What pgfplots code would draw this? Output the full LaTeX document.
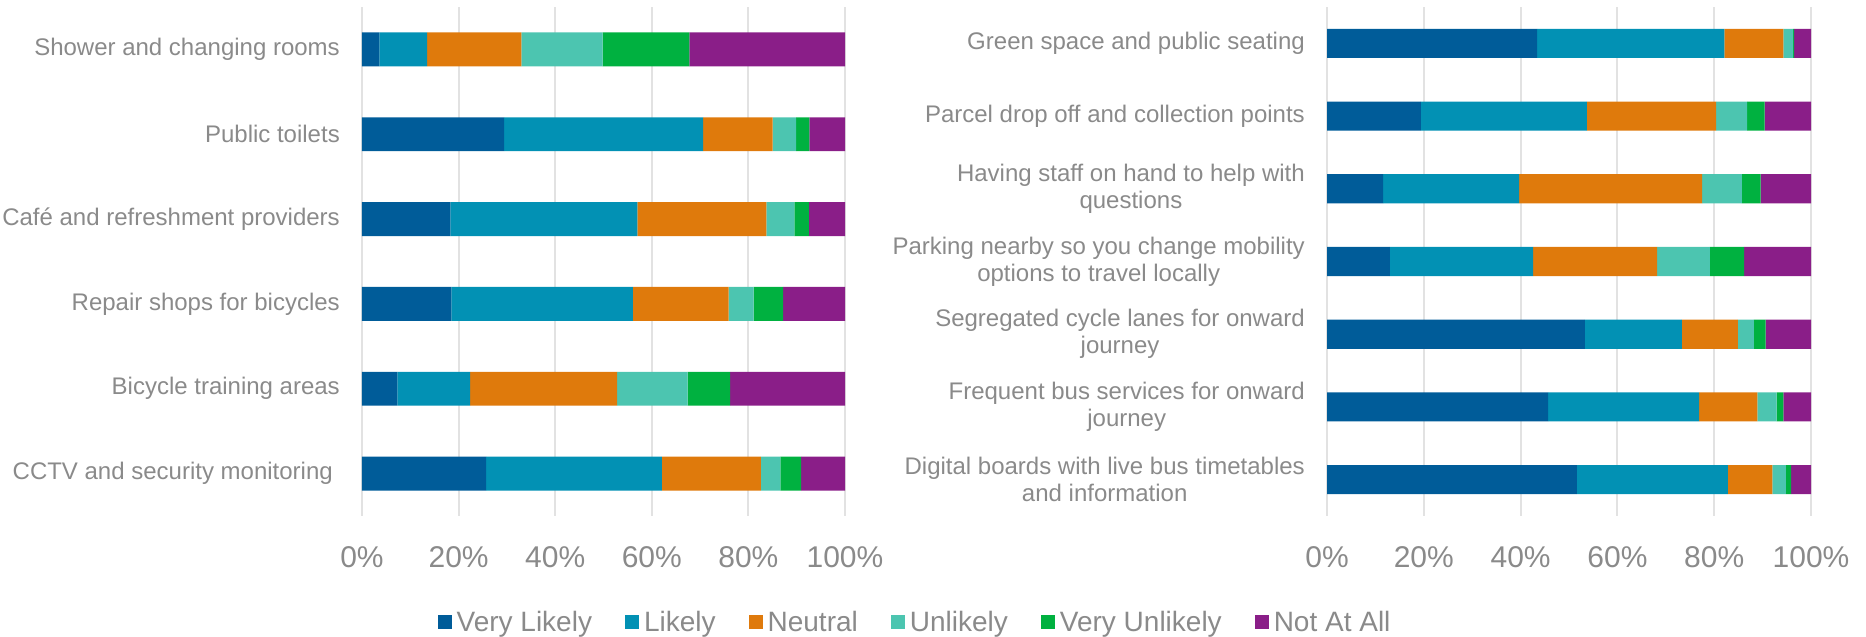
\documentclass[border=0pt]{standalone}
\usepackage{fontspec}
\setmainfont{Liberation Sans}
\usepackage{pgfplots}
\usepackage{pgfplotstable}
\pgfplotsset{compat=1.18}

\definecolor{cVL}{HTML}{005C99}
\definecolor{cL}{HTML}{0291B4}
\definecolor{cN}{HTML}{DF7A0C}
\definecolor{cU}{HTML}{4CC5B0}
\definecolor{cVU}{HTML}{00B140}
\definecolor{cNA}{HTML}{8A1E88}
\definecolor{txt}{HTML}{8A8A8A}
\definecolor{gridc}{HTML}{E2E2E2}

% left panel, top to bottom
\pgfplotstableread{
idx VL   L    N    U    VU   NA
0   3.6  9.9  19.5 16.8 18.0 32.2
1   29.4 41.2 14.4 4.9  2.7  7.4
2   18.3 38.7 26.7 5.8  3.0  7.5
3   18.5 37.6 19.8 5.2  6.1  12.8
4   7.3  15.1 30.4 14.6 8.8  23.8
5   25.7 36.4 20.5 4.0  4.3  9.1
}\leftdata

% right panel, top to bottom
\pgfplotstableread{
idx VL   L    N    U    VU   NA
0   43.4 38.7 12.2 2.0  0.2  3.5
1   19.4 34.3 26.7 6.4  3.6  9.6
2   11.6 28.1 37.8 8.2  3.9  10.4
3   13.0 29.6 25.6 10.9 7.1  13.8
4   53.3 20.0 11.6 3.3  2.4  9.4
5   45.7 31.2 12.0 4.0  1.4  5.7
6   51.6 31.2 9.2  2.8  1.1  4.1
}\rightdata

\pgfplotsset{
  panel/.style={
    xbar stacked,
    scale only axis,
    width=483pt, height=509pt,
    xmin=0, xmax=100,
    y dir=reverse,
    bar width=0.4,
    axis line style={draw=none},
    major tick length=0pt,
    xtick={0,20,...,100},
    xticklabels={0\%,20\%,40\%,60\%,80\%,100\%},
    xmajorgrids,
    grid style={gridc, line width=2pt},
    x tick label style={font=\fontsize{30}{34}\selectfont, text=txt,
      anchor=base, inner sep=0pt, yshift=-51pt},
    yticklabel style={font=\fontsize{24}{27}\selectfont, text=txt,
      anchor=east, align=center, inner sep=0pt, xshift=-22pt},
    legend image code/.code={\fill[##1] (0pt,-7pt) rectangle (14pt,7pt);},
  },
}

\begin{document}
\begin{tikzpicture}
\useasboundingbox (0,0) rectangle (1866pt,637pt);

\begin{axis}[
  panel,
  at={(362pt,121pt)}, anchor=south west,
  ymin=-0.5, ymax=5.5,
  ytick={0,...,5},
  yticklabels={
    {Shower and changing rooms},
    {Public toilets},
    {Café and refreshment providers},
    {Repair shops for bicycles},
    {Bicycle training areas},
    {CCTV and security monitoring\kern7pt}},
  legend columns=6,
  legend cell align=left,
  legend style={at={(axis description cs:1.143,-0.208)}, anchor=center,
    draw=none, fill=none, inner sep=0pt,
    font=\fontsize{28}{32}\selectfont, text=txt,
    nodes={inner sep=0pt},
    /tikz/every odd column/.append style={column sep=5pt},
    /tikz/every even column/.append style={column sep=33pt}},
]
\addplot[fill=cVL, draw=none] table[x=VL, y=idx] {\leftdata};
\addplot[fill=cL,  draw=none] table[x=L,  y=idx] {\leftdata};
\addplot[fill=cN,  draw=none] table[x=N,  y=idx] {\leftdata};
\addplot[fill=cU,  draw=none] table[x=U,  y=idx] {\leftdata};
\addplot[fill=cVU, draw=none] table[x=VU, y=idx] {\leftdata};
\addplot[fill=cNA, draw=none] table[x=NA, y=idx] {\leftdata};
\legend{Very Likely, Likely, Neutral, Unlikely, Very Unlikely, Not At All}
\end{axis}

\begin{axis}[
  panel,
  width=484pt,
  at={(1327pt,121pt)}, anchor=south west,
  ymin=-0.5, ymax=6.5,
  ytick={0,...,6},
  yticklabels={
    {Green space and public seating},
    {Parcel drop off and collection points},
    {Having staff on hand to help with\\questions},
    {Parking nearby so you change mobility\\options to travel locally},
    {Segregated cycle lanes for onward\\journey},
    {Frequent bus services for onward\\journey},
    {Digital boards with live bus timetables\\and information}},
]
\addplot[fill=cVL, draw=none] table[x=VL, y=idx] {\rightdata};
\addplot[fill=cL,  draw=none] table[x=L,  y=idx] {\rightdata};
\addplot[fill=cN,  draw=none] table[x=N,  y=idx] {\rightdata};
\addplot[fill=cU,  draw=none] table[x=U,  y=idx] {\rightdata};
\addplot[fill=cVU, draw=none] table[x=VU, y=idx] {\rightdata};
\addplot[fill=cNA, draw=none] table[x=NA, y=idx] {\rightdata};
\end{axis}
\end{tikzpicture}
\end{document}
